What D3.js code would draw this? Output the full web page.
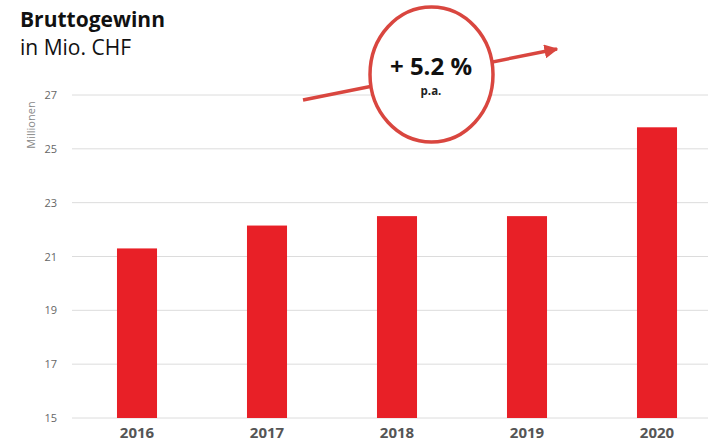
<!DOCTYPE html>
<html>
<head>
<meta charset="utf-8">
<script src="https://cdn.jsdelivr.net/npm/d3@7"></script>
<style>
  body { margin: 0; background: #fff; }
  text { font-family: "Open Sans", "Noto Sans", sans-serif; }
</style>
</head>
<body>
<div id="chart"></div>
<script>
var years = ["2016", "2017", "2018", "2019", "2020"];
var grossProfit = [21.3, 22.15, 22.5, 22.5, 25.8];
var yTicks = [15, 17, 19, 21, 23, 25, 27];

var svgWidth = 708;
var svgHeight = 445;

var svg = d3.select("#chart")
    .append("svg")
    .attr("width", svgWidth)
    .attr("height", svgHeight);

var gridLeft = 72;
var gridRight = 708;

var xScale = d3.scaleBand()
    .domain(years)
    .range([72, 722])
    .paddingInner(0.692)
    .paddingOuter(0.346);

var yScale = d3.scaleLinear()
    .domain([15, 27])
    .range([418, 95]);

// gridlines
svg.append("g")
    .selectAll("line")
    .data(yTicks)
    .enter()
    .append("line")
    .attr("x1", gridLeft)
    .attr("x2", gridRight)
    .attr("y1", d => yScale(d))
    .attr("y2", d => yScale(d))
    .attr("stroke", "#dcdcdc")
    .attr("stroke-width", 1);

// y axis labels
var leftAxis = d3.axisLeft(yScale).tickValues(yTicks).tickSize(0).tickPadding(0);
svg.append("g")
    .attr("transform", "translate(57,0)")
    .call(leftAxis)
    .call(g => g.select(".domain").remove())
    .selectAll("text")
    .attr("font-family", "Open Sans, sans-serif")
    .attr("font-size", "11px")
    .attr("fill", "#666");

svg.append("text")
    .attr("transform", "translate(35,125) rotate(-90)")
    .attr("text-anchor", "middle")
    .attr("font-size", "11px")
    .attr("fill", "#888")
    .text("Millionen");

// bars
svg.selectAll("rect.bar")
    .data(grossProfit)
    .enter()
    .append("rect")
    .attr("class", "bar")
    .attr("x", (d, i) => xScale(years[i]))
    .attr("y", d => yScale(d))
    .attr("width", xScale.bandwidth())
    .attr("height", d => yScale(15) - yScale(d))
    .attr("fill", "#e82027");

// x axis labels
var bottomAxis = d3.axisBottom(xScale).tickSize(0).tickPadding(0);
svg.append("g")
    .attr("transform", "translate(0,427)")
    .call(bottomAxis)
    .call(g => g.select(".domain").remove())
    .selectAll("text")
    .attr("font-family", "Open Sans, sans-serif")
    .attr("font-size", "15px")
    .attr("font-weight", "bold")
    .attr("fill", "#555");

// title
svg.append("text")
    .attr("x", 20)
    .attr("y", 27)
    .attr("font-size", "21px")
    .attr("font-weight", "bold")
    .attr("fill", "#111")
    .text("Bruttogewinn");

svg.append("text")
    .attr("x", 20)
    .attr("y", 55)
    .attr("font-size", "21px")
    .attr("fill", "#111")
    .text("in Mio. CHF");

// growth annotation
var accent = "#d9463f";
svg.append("defs").append("marker")
    .attr("id", "arrow")
    .attr("viewBox", "0 0 10 10")
    .attr("refX", 9)
    .attr("refY", 5)
    .attr("markerWidth", 4)
    .attr("markerHeight", 4)
    .attr("markerUnits", "strokeWidth")
    .attr("orient", "auto")
    .append("path")
    .attr("d", "M0,0 L10,5 L0,10 Z")
    .attr("fill", accent);

svg.append("line")
    .attr("x1", 303)
    .attr("y1", 100)
    .attr("x2", 557)
    .attr("y2", 49)
    .attr("stroke", accent)
    .attr("stroke-width", 3.5)
    .attr("marker-end", "url(#arrow)");

svg.append("ellipse")
    .attr("cx", 431.5)
    .attr("cy", 74.5)
    .attr("rx", 61.5)
    .attr("ry", 67.5)
    .attr("fill", "#fff")
    .attr("stroke", accent)
    .attr("stroke-width", 3.5);

svg.append("text")
    .attr("x", 431)
    .attr("y", 75)
    .attr("text-anchor", "middle")
    .attr("font-size", "24px")
    .attr("font-weight", "bold")
    .attr("fill", "#111")
    .text("+ 5.2 %");

svg.append("text")
    .attr("x", 431)
    .attr("y", 95)
    .attr("text-anchor", "middle")
    .attr("font-size", "11.5px")
    .attr("font-weight", "bold")
    .attr("fill", "#222")
    .text("p.a.");
</script>
</body>
</html>
